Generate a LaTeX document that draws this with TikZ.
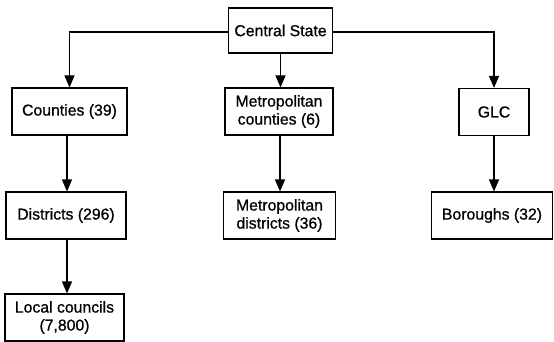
\documentclass[tikz,border=0pt]{standalone}
\usepackage{fontspec}
\setmainfont{Liberation Sans}[RawFeature={embolden=0.8}]
\usetikzlibrary{arrows.meta}
\begin{document}
\begin{tikzpicture}[x=1pt,y=-1pt,
  box/.style={draw,line width=1.1pt,inner sep=0pt,align=center,font=\fontsize{15.8}{18}\selectfont},
  link/.style={line width=1.1pt,-{Triangle[length=12pt,width=10pt]}}]
\useasboundingbox (0,0) rectangle (554,342);
\node[box,minimum width=104pt,minimum height=45pt] (cs) at (280.5,30.5) {Central State};
\node[box,minimum width=115pt,minimum height=47pt] (co) at (69.5,111.5) {Counties (39)};
\node[box,minimum width=108pt,minimum height=47pt] (mc) at (279,111.5) {Metropolitan\\counties (6)};
\node[box,minimum width=70pt,minimum height=47pt] (glc) at (494,112) {GLC};
\node[box,minimum width=120pt,minimum height=47pt] (di) at (66,215.5) {Districts (296)};
\node[box,minimum width=112pt,minimum height=47pt] (md) at (279.5,215.5) {Metropolitan\\districts (36)};
\node[box,minimum width=121pt,minimum height=47pt] (bo) at (492,215.5) {Boroughs (32)};
\node[box,minimum width=119pt,minimum height=47pt] (lc) at (64.5,317.5) {Local councils\\(7,800)};
\coordinate (cl) at (69,32);
\coordinate (cr) at (494,32);
\draw[link] (cs.west |- cl) -| (co.north);
\draw[link] (cs.east |- cr) -| (glc.north);
\draw[link] (cs.south) -- (cs.south |- mc.north);
\draw[link] (co.south -| 67,0) -- (di.north -| 67,0);
\draw[link] (di.south -| 67,0) -- (lc.north -| 67,0);
\draw[link] (mc.south -| 280,0) -- (md.north -| 280,0);
\draw[link] (glc.south) -- (glc.south |- bo.north);
\end{tikzpicture}
\end{document}
